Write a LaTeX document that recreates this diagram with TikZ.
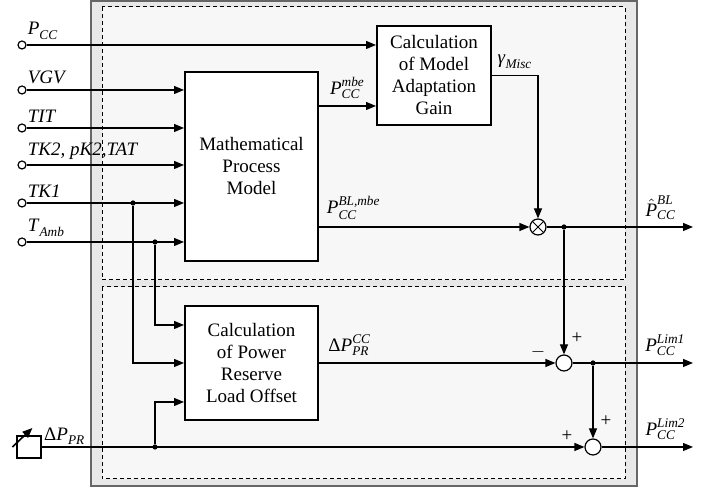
\documentclass[tikz,border=0pt]{standalone}
\usepackage{fontspec}
\setmainfont{Liberation Serif}
\usepackage{amsmath}
\usetikzlibrary{arrows.meta}

\newcommand{\sym}[3]{\textit{#1}$^{\textit{#2}}_{\textit{#3}}$}

\tikzset{
  blk/.style={draw,line width=1pt,fill=white,align=center,inner sep=0pt},
  port/.style={draw,circle,fill=white,inner sep=0pt,minimum size=4pt,line width=0.6pt},
  dot/.style={circle,fill=black,inner sep=0pt,minimum size=2.6pt},
  sum/.style={draw,circle,fill=white,inner sep=0pt,minimum size=8pt,line width=0.6pt},
  lbl/.style={inner sep=1pt},
  frame/.style={dashed,dash pattern=on 2pt off 1.5pt,line width=0.5pt,fill=black!3}
}

\begin{document}
\begin{tikzpicture}[x=0.5pt,y=-0.5pt,>={Triangle[length=5pt,width=4pt]},line width=0.6pt,
  font=\fontsize{9.5}{11}\selectfont]
\useasboundingbox (0,0) rectangle (709,490);
% frames
\draw[draw=black!60,fill=black!9,line width=0.8pt] (91,1) rectangle (637,486);
\draw[frame] (102,7) rectangle (625,280);
\draw[frame] (102,287) rectangle (625,479);

% blocks
\node[blk,minimum width=66.5pt,minimum height=94.5pt] (model) at (251.5,166.5) {Mathematical\\Process\\Model};
\node[blk,minimum width=57pt,minimum height=49.5pt] (gain) at (434,75.5) {Calculation\\of Model\\Adaptation\\Gain};
\node[blk,minimum width=66.5pt,minimum height=57pt] (offset) at (251.5,363) {Calculation\\of Power\\Reserve\\Load Offset};

% inputs
\node[port,label={[lbl]above right:\sym{P}{}{CC}}] (pcc) at (22,45) {};
\node[port,label={[lbl]above right:\textit{VGV}}] (vgv) at (22,90) {};
\node[port,label={[lbl]above right:\textit{TIT}}] (tit) at (22,128) {};
\node[port,label={[lbl]above right:\textit{TK2, pK2,TAT}}] (tk2) at (22,165) {};
\node[port,label={[lbl]above right:\textit{TK1}}] (tk1) at (22,203) {};
\node[port,label={[lbl]above right:\sym{T}{}{Amb}}] (tamb) at (22,242) {};

\draw[->] (pcc) -- (gain.west |- pcc);
\foreach \n in {vgv,tit,tk2,tk1,tamb}{\draw[->] (\n) -- (model.west |- \n);}

% branches to the offset block
\node[dot] (jtk) at (133,203) {};
\node[dot] (jamb) at (155,242) {};
\draw[->] (jtk) |- (offset.west);
\draw[->] (jamb) |- ([yshift=19pt]offset.west);

% model outputs
\draw[->] (model.east |- 0,106) -- node[above]{\sym{P}{mbe}{CC}} (gain.west |- 0,106);
\node[sum,path picture={\draw[line width=0.5pt] (path picture bounding box.north west) -- (path picture bounding box.south east)
  (path picture bounding box.south west) -- (path picture bounding box.north east);}] (mul) at (538,227) {};
\draw[->] (gain.east) -| node[pos=0.25,above]{\sym{γ}{}{Misc}} (mul);
\draw[->] (model.east |- mul) -- node[pos=0.165,above]{\sym{P}{BL,mbe}{CC}} (mul);

\node[dot] (jbl) at (564,227) {};
\coordinate (outbl) at (693,227);
\draw[->] (mul) -- node[pos=0.78,above]{$\hat{\text{\textit{P}}}^{\textit{BL}}_{\textit{CC}}$} (outbl);

% sums
\node[sum] (s1) at (564,363) {};
\node[sum] (s2) at (593,447) {};
\node[dot] (jlim) at (593,363) {};
\coordinate (outl1) at (693,363);
\coordinate (outl2) at (693,447);
\draw[->] (jbl) -- (s1);
\draw[->] (offset) -- node[pos=0.13,above]{Δ\sym{P}{CC}{PR}} (s1);
\draw[->] (s1) -- node[pos=0.77,above]{\sym{P}{Lim1}{CC}} (outl1);
\draw[->] (jlim) -- (s2);
\draw[->] (s2) -- node[pos=0.7,above]{\sym{P}{Lim2}{CC}} (outl2);
\node at ([shift={(13,-25)}]s1) {+};
\node at ([shift={(-26,-11)}]s1) {$-$};
\node at ([shift={(13,-26)}]s2) {+};
\node at ([shift={(-26,-11)}]s2) {+};

% power reserve input
\node[draw,fill=white,inner sep=0pt,minimum width=12pt,minimum height=11pt] (src) at (29,447) {};
\draw[->,line width=0.8pt] (src.west) ++(-4,0) -- ++(20,-19);
\node[dot] (jpr) at (155,447) {};
\draw[->] (src) -- (s2) node[pos=0,above right,lbl]{Δ\sym{P}{}{PR}};
\draw[->] (jpr) |- ([yshift=-19.5pt]offset.west);
\end{tikzpicture}
\end{document}
